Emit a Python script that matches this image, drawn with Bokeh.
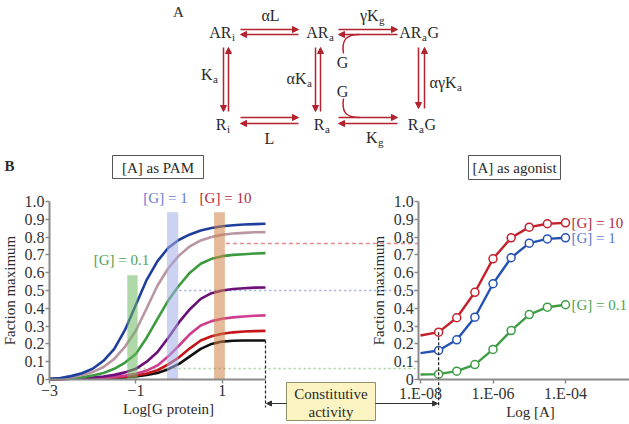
import math
from bokeh.plotting import figure
from bokeh.models import Range1d, LinearAxis, FixedTicker, Arrow, NormalHead
from bokeh.core.properties import value
from bokeh.embed import file_html
from bokeh.resources import INLINE

FONT = "Liberation Serif"

# ---------------- data ----------------
# Panel B left: "[A] as PAM" curves vs Log[G protein]
log_g = [-3.0, -2.75, -2.5, -2.25, -2.0, -1.75, -1.5, -1.25, -1.0, -0.75, -0.5,
         -0.25, 0.0, 0.25, 0.5, 0.75, 1.0, 1.25, 1.5, 1.75, 2.0]
pam_blue = [0.002, 0.008, 0.019, 0.035, 0.06, 0.105, 0.172, 0.28, 0.42, 0.56, 0.665,
            0.74, 0.785, 0.815, 0.837, 0.851, 0.861, 0.867, 0.871, 0.873, 0.875]
pam_mauve = [0.002, 0.006, 0.013, 0.025, 0.041, 0.07, 0.116, 0.185, 0.275, 0.4, 0.528,
             0.625, 0.697, 0.748, 0.781, 0.8, 0.813, 0.82, 0.824, 0.827, 0.828]
pam_green = [0.002, 0.004, 0.007, 0.013, 0.022, 0.037, 0.06, 0.095, 0.144, 0.235, 0.341,
             0.445, 0.528, 0.6, 0.65, 0.678, 0.693, 0.7, 0.704, 0.708, 0.71]
pam_purple = [0.002, 0.003, 0.004, 0.007, 0.011, 0.017, 0.026, 0.04, 0.06, 0.1, 0.154,
              0.235, 0.322, 0.395, 0.453, 0.485, 0.5, 0.508, 0.513, 0.516, 0.517]
pam_magenta = [0.002, 0.003, 0.004, 0.005, 0.007, 0.01, 0.015, 0.022, 0.032, 0.05, 0.079,
               0.13, 0.191, 0.255, 0.303, 0.328, 0.341, 0.349, 0.354, 0.358, 0.36]
pam_red = [0.002, 0.003, 0.004, 0.005, 0.006, 0.008, 0.011, 0.016, 0.022, 0.034, 0.052,
           0.085, 0.125, 0.175, 0.219, 0.243, 0.257, 0.265, 0.27, 0.272, 0.273]
pam_black = [0.002, 0.003, 0.004, 0.005, 0.006, 0.007, 0.009, 0.012, 0.017, 0.025, 0.037,
             0.058, 0.088, 0.13, 0.172, 0.2, 0.213, 0.218, 0.219, 0.219, 0.219]

# shaded [G] bars in the PAM panel
bar_labels = ["[G] = 0.1", "[G] = 1", "[G] = 10"]
bar_left = [-1.2, -0.28, 0.81]
bar_right = [-0.96, -0.02, 1.06]
bar_top = [0.585, 0.94, 0.94]

# Panel B right: "[A] as agonist" vs Log [A]
log_a = [-8.0, -7.5, -7.0, -6.5, -6.0, -5.5, -5.0, -4.5, -4.0]
ago_g10 = [0.247, 0.266, 0.347, 0.49, 0.678, 0.796, 0.856, 0.875, 0.88]
ago_g1 = [0.148, 0.163, 0.223, 0.35, 0.538, 0.684, 0.766, 0.79, 0.796]
ago_g01 = [0.028, 0.03, 0.047, 0.084, 0.169, 0.275, 0.365, 0.406, 0.42]
ago_labels = ["[G] = 10", "[G] = 1", "[G] = 0.1"]

# reference levels carried from the PAM panel to the agonist panel
ref_levels = [0.764, 0.5, 0.062]

# ticks
frac_ticks = [0, 0.1, 0.2, 0.3, 0.4, 0.5, 0.6, 0.7, 0.8, 0.9, 1.0]
frac_tick_labels = ["0", "0.1", "0.2", "0.3", "0.4", "0.5", "0.6", "0.7", "0.8", "0.9", "1.0"]
pam_x_ticks = [-3, -1, 1]
pam_x_tick_labels = ["\u22123", "\u22121", "1"]
ago_x_ticks = [-8, -6, -4]
ago_x_tick_labels = ["1.E-08", "1.E-06", "1.E-04"]

# ---------------- layout (page pixels) ----------------
FX0, FX1, FY0, FY1 = 0, 629, 0, 424
PAM_X = (-3.0, 49.0, 2.0, 265.0)      # value, px, value, px
AGO_X = (-8.0, 420.0, -4.0, 565.0)
FRAC_Y = (0.0, 379.0, 1.0, 201.0)
AGO_AXIS_X = -8.05


def frame_range(anchor, lo_px, hi_px):
    v0, p0, v1, p1 = anchor
    k = (p1 - p0) / (v1 - v0)
    return Range1d(start=v0 + (lo_px - p0) / k, end=v0 + (hi_px - p0) / k)


def to_px(v, anchor):
    v0, p0, v1, p1 = anchor
    return p0 + (v - v0) * (p1 - p0) / (v1 - v0)


def to_val(px, anchor):
    v0, p0, v1, p1 = anchor
    return v0 + (px - p0) * (v1 - v0) / (p1 - p0)


p = figure(width=FX1 - FX0, height=FY1 - FY0,
           x_range=Range1d(FX0, FX1), y_range=Range1d(FY1, FY0),
           output_backend="svg", toolbar_location=None,
           x_axis_location=None, y_axis_location=None,
           min_border=0, outline_line_color=None)
p.grid.visible = False
p.background_fill_color = "white"
p.border_fill_color = "white"

p.extra_x_ranges = {"lx": frame_range(PAM_X, FX0, FX1), "rx": frame_range(AGO_X, FX0, FX1)}
p.extra_y_ranges = {"fy": frame_range(FRAC_Y, FY1, FY0)}


def txt(x, y, s, size=15, color="#222222", align="center", baseline="middle",
        xr="default", yr="default", angle=0.0, style="normal", x_offset=0):
    p.text(x=[x], y=[y], text=[s], text_font=value(FONT),
           text_font_size=value(f"{size}px"), text_color=color,
           text_align=align, text_baseline=baseline, angle=angle,
           text_font_style=style, x_offset=x_offset,
           x_range_name=xr, y_range_name=yr)


def arrow(x0, y0, x1, y1, color, width=1.5, size=6):
    p.add_layout(Arrow(x_start=x0, y_start=y0, x_end=x1, y_end=y1,
                       line_color=color, line_width=width,
                       end=NormalHead(size=size, fill_color=color, line_color=color, line_width=1)))


# ---------------- Panel A : reaction scheme ----------------
SR = "#b3222f"
TXT = "#2a2a2a"
txt(178, 11, "A", size=15, color=TXT)


def species(x_split, y, main, sub, tail=None, tail_x=None):
    txt(x_split, y, main, size=16, color=TXT, align="right")
    txt(x_split + 0.5, y + 4, sub, size=11, color=TXT, align="left")
    if tail:
        txt(tail_x, y, tail, size=16, color=TXT, align="left")


species(231, 32, "AR", "i")
species(328, 32, "AR", "a")
species(421, 32, "AR", "a", "G", 427)
species(226, 124, "R", "i")
species(324, 124, "R", "a")
species(418, 124, "R", "a", "G", 424)

txt(270, 15, "\u03b1L", size=16, color=TXT)
species(378, 15, "\u03b3K", "g")
species(212, 74, "K", "a")
species(306, 78, "\u03b1K", "a")
species(456, 82, "\u03b1\u03b3K", "a")
txt(269, 138, "L", size=16, color=TXT)
species(377, 137, "K", "g")
txt(342, 62, "G", size=16, color=TXT)
txt(342, 91, "G", size=16, color=TXT)

for x0, x1, ya, yb in [(240, 298, 29, 34), (338, 397, 29, 34),
                       (240, 298, 117, 123), (338, 397, 117, 123)]:
    arrow(x0, ya, x1, ya, SR)
    arrow(x1, yb, x0, yb, SR)
for xa, xb, y0, y1 in [(223, 228, 47, 111), (315, 320, 47, 111), (418, 424, 47, 108)]:
    arrow(xa, y0, xa, y1, SR)
    arrow(xb, y1, xb, y0, SR)

p.bezier(x0=[343], y0=[53], x1=[359], y1=[34], cx0=[341], cy0=[40], cx1=[345], cy1=[34],
         line_color=SR, line_width=1.5)
p.bezier(x0=[343], y0=[98], x1=[359], y1=[117], cx0=[341], cy0=[111], cx1=[345], cy1=[117],
         line_color=SR, line_width=1.5)

# ---------------- Panel B headers ----------------
txt(4, 165, "B", size=15, color=TXT, align="left", style="bold")
p.quad(left=[112], right=[203], top=[155], bottom=[178], fill_color="white",
       line_color="#555555", line_width=1)
txt(157.5, 167, "[A] as PAM", size=15, color=TXT)
p.quad(left=[468], right=[560], top=[155], bottom=[179], fill_color="white",
       line_color="#555555", line_width=1)
txt(514, 167, "[A] as agonist", size=15, color=TXT)

# ---------------- axes ----------------
AX = "#8a8a8a"


def style_axis(ax):
    ax.axis_line_color = AX
    ax.axis_line_width = 2
    ax.major_tick_line_color = AX
    ax.major_tick_line_width = 1.5
    ax.major_tick_in = 0
    ax.major_tick_out = 4
    ax.minor_tick_line_color = None
    ax.major_label_text_font = FONT
    ax.major_label_text_font_size = "16px"
    ax.major_label_text_color = "#333333"
    ax.major_label_standoff = 1


frac_over = dict(zip(frac_ticks, frac_tick_labels))

pam_y = LinearAxis(x_range_name="lx", y_range_name="fy", fixed_location=PAM_X[0],
                   bounds=(0, 1.0), ticker=FixedTicker(ticks=frac_ticks),
                   major_label_overrides=frac_over)
style_axis(pam_y)
p.add_layout(pam_y, "left")

pam_x = LinearAxis(x_range_name="lx", y_range_name="fy", fixed_location=0,
                   bounds=(PAM_X[0], PAM_X[2]), ticker=FixedTicker(ticks=pam_x_ticks),
                   major_label_overrides=dict(zip(pam_x_ticks, pam_x_tick_labels)))
style_axis(pam_x)
p.add_layout(pam_x, "below")

ago_y = LinearAxis(x_range_name="rx", y_range_name="fy", fixed_location=AGO_AXIS_X,
                   bounds=(0, 1.0), ticker=FixedTicker(ticks=frac_ticks),
                   major_label_overrides=frac_over)
style_axis(ago_y)
p.add_layout(ago_y, "left")

ago_x = LinearAxis(x_range_name="rx", y_range_name="fy", fixed_location=0,
                   bounds=(AGO_AXIS_X, 0.0), ticker=FixedTicker(ticks=ago_x_ticks),
                   major_label_overrides=dict(zip(ago_x_ticks, ago_x_tick_labels)))
style_axis(ago_x)
p.add_layout(ago_x, "below")

txt(9, 290, "Faction maximum", size=15, color=TXT, angle=math.pi / 2)
txt(378, 290, "Faction maximum", size=15, color=TXT, angle=math.pi / 2)
txt(168, 408, "Log[G protein]", size=15, color=TXT)
txt(530, 411, "Log [A]", size=15, color=TXT)

# ---------------- reference dashed levels ----------------
lvl_colors = ["#e58a8a", "#9ea8e2", "#9fd59a"]
lvl_dash = ["4 3", "2 3", "2 3"]
lvl_start = [bar_right[2], bar_right[1], bar_right[0]]
x_end_px = to_px(AGO_AXIS_X, AGO_X)
for lv, xs, c, d in zip(ref_levels, lvl_start, lvl_colors, lvl_dash):
    p.line(x=[to_px(xs, PAM_X) + 1, x_end_px], y=[to_px(lv, FRAC_Y)] * 2,
           line_color=c, line_width=1.4, line_dash=d)

# ---------------- PAM curves ----------------
pam_series = [pam_black, pam_red, pam_magenta, pam_purple, pam_green, pam_mauve, pam_blue]
pam_colors = ["#111111", "#c3161b", "#cf3d8e", "#6b1078", "#3b9b3e", "#b896a4", "#1f3f9c"]
for ys, c in zip(pam_series, pam_colors):
    p.line(log_g, ys, x_range_name="lx", y_range_name="fy", line_color=c, line_width=2.6)

bar_colors = ["#6eb961", "#a3ade6", "#cd8248"]
p.quad(left=bar_left, right=bar_right, bottom=[0, 0, 0], top=bar_top,
       x_range_name="lx", y_range_name="fy", fill_color=bar_colors, fill_alpha=0.55,
       line_color=None)

lab_cols = ["#4ca353", "#6a7bd2", "#b0283c"]
txt(121, 259, bar_labels[0], size=15, color=lab_cols[0])
txt(165, 197, bar_labels[1], size=15, color=lab_cols[1])
txt(225, 197, bar_labels[2], size=15, color=lab_cols[2])

# ---------------- agonist curves ----------------
ago_series = [ago_g01, ago_g1, ago_g10]
ago_colors = ["#3d9c45", "#2352b3", "#c4202c"]
for ys, c in zip(ago_series, ago_colors):
    p.line(log_a, ys, x_range_name="rx", y_range_name="fy", line_color=c, line_width=2.4)
    p.scatter(log_a[1:], ys[1:], x_range_name="rx", y_range_name="fy", marker="circle",
              size=8, fill_color="white", line_color=c, line_width=1.5)

ago_lab_cols = ["#b0283c", "#5b76cf", "#4ca353"]
for s, ys, c in zip(ago_labels, [ago_g10, ago_g1, ago_g01], ago_lab_cols):
    txt(log_a[-1], ys[-1], s, size=15, color=c, align="left", xr="rx", yr="fy", x_offset=6)

# ---------------- constitutive activity callout ----------------
y_low = to_val(407, FRAC_Y)
p.line([PAM_X[2], PAM_X[2]], [pam_black[-1], y_low], x_range_name="lx", y_range_name="fy",
       line_color="#222222", line_width=1.2, line_dash="3 2")
p.line([log_a[1], log_a[1]], [ago_g10[1], y_low], x_range_name="rx", y_range_name="fy",
       line_color="#222222", line_width=1.2, line_dash="3 2")
p.quad(left=[286], right=[375], top=[382], bottom=[420], fill_color="#fbf4c2",
       line_color="#8f8f6a", line_width=1)
txt(330.5, 393, "Constitutive", size=15, color=TXT)
txt(330.5, 411, "activity", size=15, color=TXT)
arrow(286, 403, to_px(PAM_X[2], PAM_X) + 1, 403, "#333333", width=1, size=5)
arrow(375, 403, to_px(log_a[1], AGO_X) - 1, 403, "#333333", width=1, size=5)

open("out.html", "w").write(file_html(p, INLINE))
